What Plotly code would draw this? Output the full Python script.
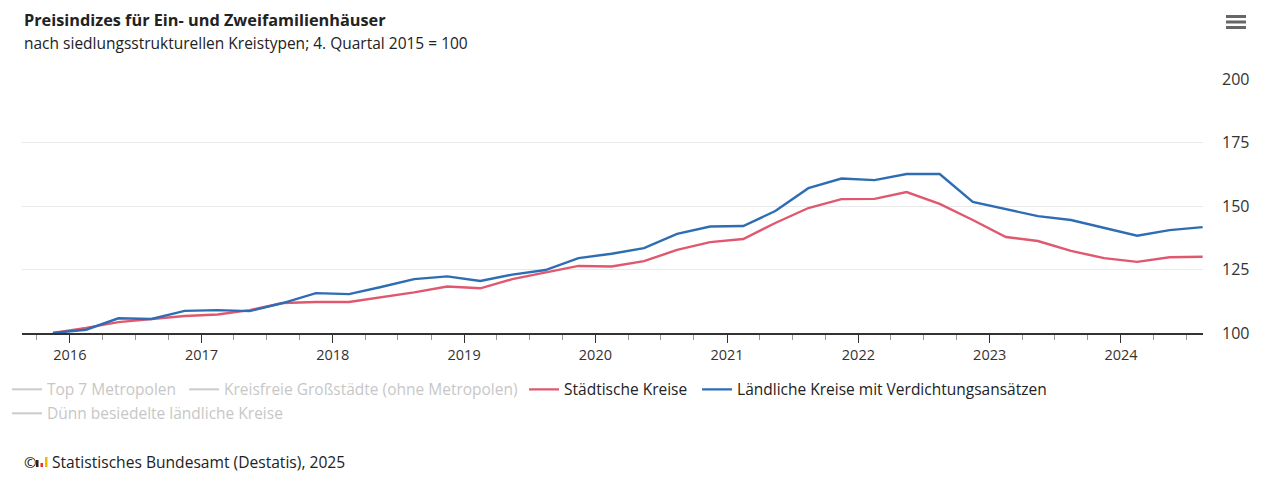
import plotly.graph_objects as go

# ---- data ----
quarters = [
    "2015-11-15",
    "2016-02-15", "2016-05-15", "2016-08-15", "2016-11-15",
    "2017-02-15", "2017-05-15", "2017-08-15", "2017-11-15",
    "2018-02-15", "2018-05-15", "2018-08-15", "2018-11-15",
    "2019-02-15", "2019-05-15", "2019-08-15", "2019-11-15",
    "2020-02-15", "2020-05-15", "2020-08-15", "2020-11-15",
    "2021-02-15", "2021-05-15", "2021-08-15", "2021-11-15",
    "2022-02-15", "2022-05-15", "2022-08-15", "2022-11-15",
    "2023-02-15", "2023-05-15", "2023-08-15", "2023-11-15",
    "2024-02-15", "2024-05-15", "2024-08-15",
]
staedtische = [
    100.0, 102.0, 104.3, 105.5, 106.7, 107.3, 109.0, 111.8, 112.2,
    112.2, 114.0, 116.0, 118.3, 117.6, 121.2, 123.8, 126.4, 126.2,
    128.3, 132.7, 135.8, 137.0, 143.3, 149.2, 152.7, 152.8, 155.5,
    150.8, 144.5, 137.8, 136.2, 132.3, 129.5, 128.0, 129.8, 130.0,
]
laendliche = [
    100.0, 101.3, 105.8, 105.5, 108.7, 109.0, 108.6, 111.8, 115.7,
    115.3, 118.1, 121.2, 122.3, 120.5, 123.0, 124.8, 129.5, 131.2,
    133.4, 139.0, 141.9, 142.1, 148.0, 157.0, 160.8, 160.2, 162.6,
    162.6, 151.6, 148.8, 146.0, 144.5, 141.3, 138.3, 140.5, 141.7,
]
series_names = [
    "Top 7 Metropolen",
    "Kreisfreie Großstädte (ohne Metropolen)",
    "Städtische Kreise",
    "Ländliche Kreise mit Verdichtungsansätzen",
    "Dünn besiedelte ländliche Kreise",
]
year_ticks = ["2016-01-01", "2017-01-01", "2018-01-01", "2019-01-01", "2020-01-01",
              "2021-01-01", "2022-01-01", "2023-01-01", "2024-01-01"]
year_labels = ["2016", "2017", "2018", "2019", "2020", "2021", "2022", "2023", "2024"]
y_ticks = [100, 125, 150, 175, 200]

FONT = "Open Sans"
RED = "#E0586F"
BLUE = "#2E6DB4"
HIDDEN_LINE = "#999999"   # drawn at half opacity by legendonly -> light grey
HIDDEN_TEXT = "#8f8f8f"

fig = go.Figure()
fig.add_trace(go.Scatter(x=[quarters[0]], y=[None], mode="lines", name=series_names[0],
                         line=dict(color=HIDDEN_LINE, width=2), visible="legendonly",
                         legend="legend"))
fig.add_trace(go.Scatter(x=[quarters[0]], y=[None], mode="lines", name=series_names[1],
                         line=dict(color=HIDDEN_LINE, width=2), visible="legendonly",
                         legend="legend2"))
fig.add_trace(go.Scatter(x=quarters, y=staedtische, mode="lines", name=series_names[2],
                         line=dict(color=RED, width=2.4), legend="legend3"))
fig.add_trace(go.Scatter(x=quarters, y=laendliche, mode="lines", name=series_names[3],
                         line=dict(color=BLUE, width=2.4), legend="legend4"))
fig.add_trace(go.Scatter(x=[quarters[0]], y=[None], mode="lines", name=series_names[4],
                         line=dict(color=HIDDEN_LINE, width=2), visible="legendonly",
                         legend="legend5"))


def px_rect(x0, x1, y0, y1, color, xa, ya):
    return dict(type="rect", xref="paper", yref="paper", xsizemode="pixel", ysizemode="pixel",
                xanchor=xa, yanchor=ya, x0=x0, x1=x1, y0=y0, y1=y1,
                fillcolor=color, line=dict(width=0), layer="above")


def leg(x, y, color):
    return dict(orientation="h", x=x, xanchor="left", y=y, yanchor="top",
                font=dict(family=FONT, size=15.5, color=color),
                itemwidth=30, bgcolor="rgba(0,0,0,0)")


shapes = [
    # footer logo
    px_rect(14, 16.5, -134, -127, "#222222", 0, 0),
    px_rect(18.5, 21, -134, -130, "#E0303A", 0, 0),
    px_rect(23, 25.5, -134, -124, "#F5B800", 0, 0),
    # menu icon
    px_rect(23, 43, 61, 64, "#666666", 1, 1),
    px_rect(23, 43, 55.5, 58.5, "#666666", 1, 1),
    px_rect(23, 43, 50, 53, "#666666", 1, 1),
]

ROW1 = -0.1565
ROW2 = -0.251

fig.update_layout(
    width=1259, height=470,
    margin=dict(l=14, r=64, t=71, b=145, autoexpand=False),
    paper_bgcolor="white", plot_bgcolor="white",
    font=dict(family=FONT, size=14, color="#333333"),
    showlegend=True,
    legend=leg(-0.0127, ROW1, HIDDEN_TEXT),
    legend2=leg(0.1372, ROW1, HIDDEN_TEXT),
    legend3=leg(0.4251, ROW1, "#222222"),
    legend4=leg(0.5716, ROW1, "#222222"),
    legend5=leg(-0.0127, ROW2, HIDDEN_TEXT),
    xaxis=dict(
        type="date",
        range=["2015-08-21", "2024-08-16"],
        tickmode="array", tickvals=year_ticks, ticktext=year_labels,
        ticks="outside", ticklen=8, tickcolor="#333333", tickwidth=1,
        showline=True, linecolor="#333333", linewidth=1.5,
        showgrid=False, zeroline=False,
        tickfont=dict(family=FONT, size=14.5, color="#333333"),
        minor=dict(dtick="M3", tick0="2016-01-01", ticks="outside", ticklen=5,
                   tickcolor="#999999", showgrid=False),
    ),
    yaxis=dict(
        range=[100, 200], side="right",
        tickmode="array", tickvals=y_ticks,
        showgrid=True, gridcolor="#e9e9e9", gridwidth=1,
        zeroline=False, showline=False, ticks="",
        ticklabelstandoff=18,
        tickfont=dict(family=FONT, size=16, color="#333333"),
    ),
    annotations=[
        dict(text="<b>Preisindizes für Ein- und Zweifamilienhäuser</b>", xref="paper", yref="paper",
             x=0, y=1, yshift=59, xanchor="left", yanchor="middle", showarrow=False,
             font=dict(family=FONT, size=16.3, color="#222222")),
        dict(text="nach siedlungsstrukturellen Kreistypen; 4. Quartal 2015 = 100", xref="paper", yref="paper",
             x=0, y=1, yshift=36, xanchor="left", yanchor="middle", showarrow=False,
             font=dict(family=FONT, size=15.5, color="#222222")),
        dict(text="©", xref="paper", yref="paper",
             x=0, y=0, yshift=-129, xanchor="left", yanchor="middle", showarrow=False,
             font=dict(family=FONT, size=15, color="#222222")),
        dict(text="Statistisches Bundesamt (Destatis), 2025", xref="paper", yref="paper",
             x=0, y=0, xshift=28, yshift=-129, xanchor="left", yanchor="middle", showarrow=False,
             font=dict(family=FONT, size=15.6, color="#222222")),
    ],
    shapes=shapes,
)

fig.write_html("out.html")
